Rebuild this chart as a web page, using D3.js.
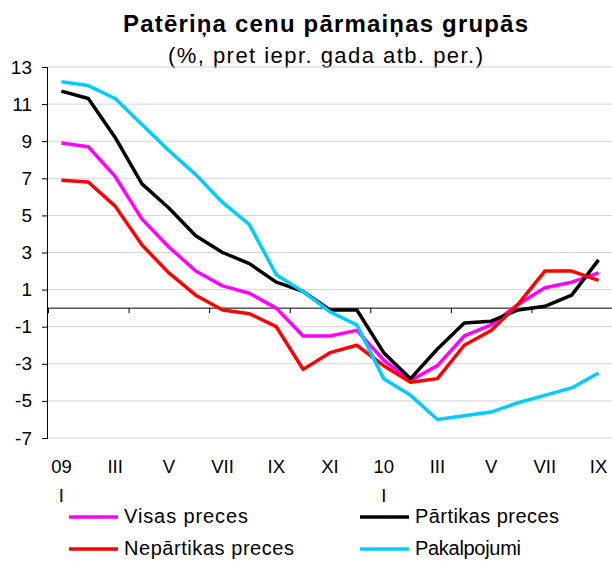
<!DOCTYPE html>
<html>
<head>
<meta charset="utf-8">
<script src="https://cdn.jsdelivr.net/npm/d3@7"></script>
<style>
  body { margin: 0; background: #fff; }
  svg { font-family: "Liberation Sans", Arial, sans-serif; }
</style>
</head>
<body>
<svg id="chart" width="612" height="561"></svg>
<script>
// Months Jan 2009 .. Sep 2010
const months = ["I","II","III","IV","V","VI","VII","VIII","IX","X","XI","XII",
                "I","II","III","IV","V","VI","VII","VIII","IX"];
const years = {0: "09", 12: "10"};

const visas       = [8.9, 8.7, 7.1, 4.8, 3.3, 2.0, 1.2, 0.8, 0.0, -1.5, -1.5, -1.2, -2.8, -3.9, -3.1, -1.5, -0.9, 0.2, 1.1, 1.4, 1.9];
const partikas    = [11.7, 11.3, 9.2, 6.7, 5.4, 3.9, 3.0, 2.4, 1.4, 0.9, -0.1, -0.1, -2.4, -3.8, -2.2, -0.8, -0.7, -0.1, 0.1, 0.7, 2.6];
const nepartikas  = [6.9, 6.8, 5.5, 3.4, 1.9, 0.7, -0.1, -0.3, -1.0, -3.3, -2.4, -2.0, -3.1, -4.0, -3.8, -2.0, -1.2, 0.2, 2.0, 2.0, 1.5];
const pakalpojumi = [12.2, 12.0, 11.3, 9.9, 8.5, 7.2, 5.7, 4.5, 1.8, 0.9, -0.2, -0.9, -3.8, -4.7, -6.0, -5.8, -5.6, -5.1, -4.7, -4.3, -3.5];

const yTicks = [13, 11, 9, 7, 5, 3, 1, -1, -3, -5, -7];

const series = [
  { name: "Visas preces",      values: visas,       color: "#ff00ff" },
  { name: "Pārtikas preces",   values: partikas,    color: "#000000" },
  { name: "Nepārtikas preces", values: nepartikas,  color: "#ff0000" },
  { name: "Pakalpojumi",       values: pakalpojumi, color: "#00ccff" }
];

const svg = d3.select("#chart");
const plotLeft = 48, plotRight = 612, plotTop = 67, plotBottom = 438;

// category axis: boundaries at integers, points at i + 0.5
const x = d3.scaleLinear().domain([0, months.length]).range([plotLeft, plotRight]);
const y = d3.scaleLinear().domain([-7, 13]).range([plotBottom, plotTop]);

// title (Excel renders it wider than the font alone, so stretch spacing)
svg.append("text")
  .attr("x", 123).attr("y", 32)
  .attr("font-size", 24).attr("font-weight", "bold")
  .attr("textLength", 405).attr("lengthAdjust", "spacing")
  .text("Patēriņa cenu pārmaiņas grupās");
svg.append("text")
  .attr("x", 168).attr("y", 63)
  .attr("font-size", 22)
  .attr("textLength", 315).attr("lengthAdjust", "spacing")
  .text("(%, pret iepr. gada atb. per.)");

// gridlines
svg.append("g")
  .selectAll("line")
  .data(yTicks)
  .enter().append("line")
    .attr("x1", plotLeft).attr("x2", plotRight)
    .attr("y1", d => y(d)).attr("y2", d => y(d))
    .attr("stroke", "#d4d4d4")
    .attr("stroke-width", 1);

// y axis
const yAxis = d3.axisLeft(y).tickValues(yTicks).tickSize(6).tickPadding(10)
  .tickFormat(d => String(d));
svg.append("g")
  .attr("transform", `translate(${plotLeft},0)`)
  .call(yAxis)
  .call(g => g.select(".domain").attr("d", `M-0.5,${plotTop}V${plotBottom}`))
  .call(g => g.selectAll("text").attr("font-size", 19).attr("font-family", "Liberation Sans, Arial, sans-serif").attr("fill", "#000"));

// zero line with category tick marks every 3 months
const xAxis = d3.axisBottom(x)
  .tickValues(d3.range(0, months.length + 1, 3))
  .tickSize(5)
  .tickFormat("");
svg.append("g")
  .attr("transform", `translate(0,${y(0)})`)
  .call(xAxis)
  .call(g => g.select(".domain").attr("d", `M${plotLeft},0H${plotRight}`));

// month labels (every other month)
const labelIdx = d3.range(0, months.length, 2);
const lab = svg.append("g").attr("font-size", 18.5);
labelIdx.forEach(i => {
  const cx = x(i + 0.5);
  if (years[i]) {
    lab.append("text").attr("x", cx).attr("y", 473).attr("text-anchor", "middle").text(years[i]);
    lab.append("text").attr("x", cx).attr("y", 502).attr("text-anchor", "middle").text(months[i]);
  } else {
    lab.append("text").attr("x", cx).attr("y", 473).attr("text-anchor", "middle").text(months[i]);
  }
});

// lines
const line = d3.line()
  .x((d, i) => x(i + 0.5))
  .y(d => y(d));

svg.append("g")
  .selectAll("path")
  .data(series)
  .enter().append("path")
    .attr("d", d => line(d.values))
    .attr("fill", "none")
    .attr("stroke", d => d.color)
    .attr("stroke-width", 3.5)
    .attr("stroke-linejoin", "round");

// legend
const legendPos = [[69, 517], [360, 517], [69, 549], [360, 549]];
const legendWidth = [124, 144, 170, 106];
const legend = svg.append("g").attr("font-size", 20);
series.forEach((s, i) => {
  const [lx, ly] = legendPos[i];
  legend.append("line")
    .attr("x1", lx).attr("x2", lx + 49)
    .attr("y1", ly).attr("y2", ly)
    .attr("stroke", s.color).attr("stroke-width", 3.5);
  legend.append("text")
    .attr("x", lx + 55).attr("y", ly + 6)
    .attr("textLength", legendWidth[i]).attr("lengthAdjust", "spacing")
    .text(s.name);
});
</script>
</body>
</html>
